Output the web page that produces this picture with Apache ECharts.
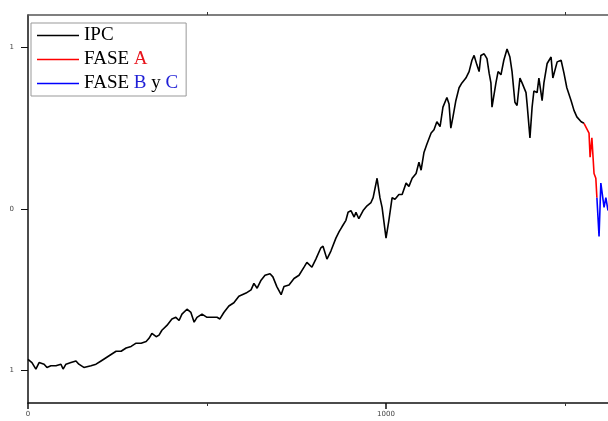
<!DOCTYPE html>
<html>
<head>
<meta charset="utf-8">
<script src="https://cdn.jsdelivr.net/npm/echarts@6/dist/echarts.min.js"></script>
<style>html,body{margin:0;padding:0;background:#fff;}#c{width:608px;height:421px;}</style>
</head>
<body>
<div id="c"></div>
<script>
const ipcX = [0,11,22,31,45,53,64,78,92,98,106,120,134,142,156,176,190,204,218,232,246,260,274,288,302,316,330,338,346,358,366,374,388,402,413,422,430,444,455,464,472,486,500,514,528,536,547,561,575,589,609,623,631,640,651,662,676,684,695,707,715,729,743,757,771,779,793,804,818,824,835,846,860,869,877,888,894,902,911,916,924,936,947,958,964,975,983,989,1000,1008,1017,1025,1036,1045,1056,1064,1073,1084,1092,1098,1106,1114,1126,1134,1142,1151,1159,1170,1176,1181,1187,1195,1204,1212,1223,1232,1240,1246,1254,1260,1265,1274,1282,1288,1293,1296,1307,1313,1321,1329,1338,1346,1352,1360,1366,1374,1380,1391,1394,1402,1408,1413,1422,1427,1436,1441,1450,1461,1466,1478,1489,1497,1505,1517,1525,1533,1545,1553];
const ipcY = [-0.93,-0.95,-0.99,-0.95,-0.96,-0.98,-0.97,-0.97,-0.96,-0.99,-0.96,-0.95,-0.94,-0.96,-0.98,-0.97,-0.96,-0.94,-0.92,-0.90,-0.88,-0.88,-0.86,-0.85,-0.83,-0.83,-0.82,-0.80,-0.77,-0.79,-0.78,-0.75,-0.72,-0.68,-0.67,-0.69,-0.65,-0.62,-0.64,-0.70,-0.67,-0.65,-0.67,-0.67,-0.67,-0.68,-0.64,-0.60,-0.58,-0.54,-0.52,-0.50,-0.46,-0.49,-0.44,-0.41,-0.40,-0.42,-0.48,-0.53,-0.48,-0.47,-0.43,-0.41,-0.36,-0.33,-0.36,-0.31,-0.24,-0.23,-0.31,-0.26,-0.18,-0.14,-0.11,-0.07,-0.02,-0.01,-0.05,-0.02,-0.06,-0.01,0.02,0.04,0.07,0.19,0.07,0.01,-0.18,-0.07,0.07,0.06,0.09,0.09,0.16,0.14,0.19,0.22,0.29,0.24,0.35,0.40,0.47,0.49,0.54,0.51,0.63,0.69,0.65,0.50,0.57,0.67,0.75,0.78,0.81,0.85,0.92,0.95,0.89,0.85,0.95,0.96,0.93,0.84,0.78,0.63,0.78,0.85,0.83,0.92,0.99,0.94,0.85,0.66,0.64,0.81,0.78,0.72,0.65,0.44,0.63,0.73,0.72,0.81,0.67,0.78,0.90,0.94,0.81,0.91,0.92,0.84,0.75,0.67,0.61,0.57,0.54,0.53];
const faseAX = [1553,1558,1567,1570,1575,1581,1586,1589];
const faseAY = [0.53,0.53,0.47,0.32,0.44,0.22,0.19,0.07];
const faseBCX = [1589,1595,1600,1609,1614,1620];
const faseBCY = [0.07,-0.17,0.16,0.01,0.07,-0.01];
const xMajorTicks = [0,1000];
const xMinorTicks = [500,1500];
const xLabelValues = [0,1000];
const yTickValues = [-1,0,1];

const pairs = (xs, ys) => xs.map((x, i) => [x, ys[i]]);
const chart = echarts.init(document.getElementById('c'), null, {renderer: 'canvas'});
const axisFont = {fontFamily: 'DejaVu Sans', fontSize: 7, color: '#444'};
chart.setOption({
  animation: false,
  backgroundColor: '#fff',
  grid: {left: 28, right: 0, top: 15, bottom: 18},
  legend: {
    orient: 'vertical', left: 31, top: 23,
    icon: 'rect',
    itemWidth: 42, itemHeight: 1.5, itemGap: 5,
    padding: [3, 8, 3, 6],
    borderColor: '#999', borderWidth: 1,
    backgroundColor: '#fff',
    data: ['IPC', 'FASE A', 'FASE B y C'],
    formatter: function (name) {
      if (name === 'FASE A') return '{n|FASE }{r|A}';
      if (name === 'FASE B y C') return '{n|FASE }{b|B}{n| y }{b|C}';
      return '{n|' + name + '}';
    },
    textStyle: {
      fontFamily: 'Liberation Serif', fontSize: 19, color: '#000', lineHeight: 19,
      rich: {
        n: {fontFamily: 'Liberation Serif', fontSize: 19, color: '#000'},
        r: {fontFamily: 'Liberation Serif', fontSize: 19, color: '#e8141c'},
        b: {fontFamily: 'Liberation Serif', fontSize: 19, color: '#1f1fd6'}
      }
    }
  },
  xAxis: [{
    type: 'value', min: 0, max: 1620, position: 'bottom',
    splitLine: {show: false},
    axisLine: {onZero: false, lineStyle: {color: '#111', width: 1.5}},
    axisTick: {inside: false, length: 6, customValues: xMajorTicks, lineStyle: {color: '#111', width: 1.5}},
    axisLabel: Object.assign({customValues: xLabelValues, margin: 8, formatter: v => String(v)}, axisFont)
  }, {
    type: 'value', min: 0, max: 1620, position: 'top',
    splitLine: {show: false},
    axisLine: {onZero: false, lineStyle: {color: '#555', width: 1.5}},
    axisTick: {inside: false, length: 3, customValues: xMinorTicks, lineStyle: {color: '#333'}},
    axisLabel: {show: false}
  }, {
    type: 'value', min: 0, max: 1620, position: 'bottom',
    splitLine: {show: false},
    axisLine: {show: false, onZero: false},
    axisTick: {inside: false, length: 3, customValues: xMinorTicks, lineStyle: {color: '#333'}},
    axisLabel: {show: false}
  }],
  yAxis: {
    type: 'value', min: -1.2, max: 1.2,
    splitLine: {show: false},
    axisLine: {show: true, onZero: false, lineStyle: {color: '#111', width: 1.5}},
    axisTick: {show: true, inside: false, length: 7, customValues: yTickValues, lineStyle: {color: '#111'}},
    axisLabel: Object.assign({customValues: yTickValues, margin: 14, formatter: v => String(Math.abs(v))}, axisFont)
  },
  series: [
    {name: 'IPC', type: 'line', data: pairs(ipcX, ipcY), symbol: 'none', color: '#000',
     lineStyle: {color: '#000', width: 1.6}},
    {name: 'FASE A', type: 'line', data: pairs(faseAX, faseAY), symbol: 'none', color: '#f00',
     lineStyle: {color: '#f00', width: 1.6}},
    {name: 'FASE B y C', type: 'line', data: pairs(faseBCX, faseBCY), symbol: 'none', color: '#00f',
     lineStyle: {color: '#00f', width: 1.6}}
  ]
});
</script>
</body>
</html>
